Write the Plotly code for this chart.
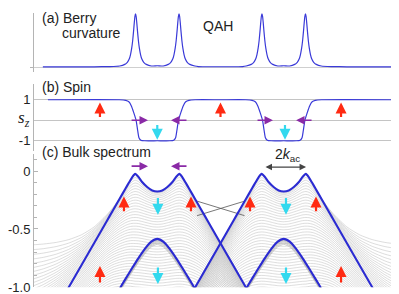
import numpy as np
import plotly.graph_objects as go

# ---------------- data ----------------
K_RANGE = [-2.95, 2.95]          # momentum axis (valleys at k = -1 and +1)

# (a) Berry curvature (normalised)
BERRY_PEAKS_K = [-1.344, -0.656, 0.656, 1.344]
PEAK_OFFSETS = [-0.25, -0.17, -0.13, -0.1, -0.08, -0.06, -0.045, -0.03, -0.02, -0.01, 0.0,
                0.01, 0.02, 0.03, 0.045, 0.06, 0.08, 0.1, 0.13, 0.17, 0.25]
PEAK_VALUES = [0.02, 0.05, 0.09, 0.15, 0.23, 0.36, 0.5, 0.69, 0.83, 0.95, 1.0,
               0.95, 0.83, 0.69, 0.5, 0.36, 0.23, 0.15, 0.09, 0.05, 0.02]
BERRY_BG_K = [-2.81, -2.0, -1.75, -1.0, -0.35, 0.0, 0.35, 1.0, 1.75, 2.0, 2.95]
BERRY_BG_V = [0.003, 0.004, 0.01, 0.025, 0.01, 0.006, 0.01, 0.025, 0.01, 0.004, 0.003]

# (b) spin s_z (left half; right half is its mirror image)
SPIN_K_LEFT = [-2.73, -1.6, -1.5, -1.45, -1.41, -1.37, -1.335, -1.31, -1.29, -1.26,
               -1.2, -1.0, -0.8, -0.74, -0.71, -0.69, -0.665, -0.63, -0.59, -0.55,
               -0.5, -0.4, 0.0]
SPIN_V_LEFT = [1, 1, 0.97, 0.9, 0.7, 0.35, 0.0, -0.5, -0.85, -0.97,
               -1, -1, -1, -0.97, -0.85, -0.5, 0.0, 0.35, 0.7, 0.9,
               0.97, 1, 1]

# (c) bands around one valley, q = k - k_valley
Q_NODES = [-2.0, -1.8, -1.6, -1.4, -1.2, -1.0, -0.8, -0.7, -0.6, -0.5, -0.45, -0.4,
           -0.35, -0.3, -0.24, -0.16, -0.08, 0.0, 0.08, 0.16, 0.24, 0.3, 0.35, 0.4,
           0.45, 0.5, 0.6, 0.7, 0.8, 1.0, 1.2, 1.4, 1.6, 1.8, 2.0]
E_UPPER = [-1.573, -1.383, -1.193, -1.003, -0.813, -0.623, -0.433, -0.338, -0.243,
           -0.149, -0.102, -0.057, -0.025, -0.05, -0.095, -0.138, -0.168, -0.177,
           -0.168, -0.138, -0.095, -0.05, -0.025, -0.057, -0.102, -0.149, -0.243,
           -0.338, -0.433, -0.623, -0.813, -1.003, -1.193, -1.383, -1.573]
Q_LOWER = [-0.9, -0.8, -0.6, -0.5, -0.4, -0.3, -0.2, -0.1, 0.0,
           0.1, 0.2, 0.3, 0.4, 0.5, 0.6, 0.8, 0.9]
E_LOWER = [-1.297, -1.203, -1.019, -0.928, -0.839, -0.753, -0.674, -0.611, -0.585,
           -0.611, -0.674, -0.753, -0.839, -0.928, -1.019, -1.203, -1.297]
VALLEYS = [-1.0, 1.0]
N_SUB, SUB_STEP = 40, 0.025          # bulk sub-band continuum
N_SUB_LOW, SUB_STEP_LOW = 8, 0.03
SAT_A0, SAT_KAPPA = 0.6, 1.9
EDGE_K = [-0.37, 0.38]
EDGE_E_A = [-0.26, -0.385]
EDGE_E_B = [-0.385, -0.26]

# arrows: (k, tail, head)
B_UP = [(-1.907, 0.08, 0.87), (0.0, 0.08, 0.87), (1.907, 0.08, 0.87)]
B_DOWN = [(-1.0, -0.16, -0.95), (1.02, -0.16, -0.95)]
B_HORIZ = [(-1.43, -1.147), (-0.514, -0.783), (0.562, 0.83), (1.464, 1.195)]  # (tail k, head k) at s=0
C_HORIZ = [(-1.43, -1.147), (-0.514, -0.783)]
C_HORIZ_E = 0.042
C_UP = [(-1.527, -0.36, -0.22), (-0.467, -0.36, -0.22), (0.467, -0.36, -0.22),
        (1.511, -0.36, -0.22), (-1.907, -0.975, -0.82), (1.907, -0.975, -0.82)]
C_DOWN = [(-0.99, -0.22, -0.378), (1.036, -0.22, -0.378),
          (-0.99, -0.82, -0.975), (1.036, -0.82, -0.975)]
KAC_ARROW = (0.688, 1.353, 0.034)

# ---------------- styles ----------------
BLUE = "#2b2bd2"
BLUE_THIN = "#3a3ad8"
RED = "#ff2a12"
CYAN = "#33d9ee"
PURPLE = "#8a2aa6"
GRAY = "#c6c6c6"
AXIS = "#b4b4b4"
FONT = "Liberation Sans, Arial, sans-serif"

fig = go.Figure()

# (a) Berry curvature
pts = list(zip(BERRY_BG_K, BERRY_BG_V))
for kc in BERRY_PEAKS_K:
    pts += [(kc + o, v) for o, v in zip(PEAK_OFFSETS, PEAK_VALUES)]
pts.sort()
fig.add_trace(go.Scatter(x=[p[0] for p in pts], y=[p[1] for p in pts], mode="lines",
                         line=dict(color=BLUE_THIN, width=1.2, shape="spline", smoothing=0.4),
                         xaxis="x", yaxis="y", hoverinfo="skip"))

# (b) spin
spin_k = SPIN_K_LEFT + [-k for k in SPIN_K_LEFT[::-1]][1:]
spin_v = SPIN_V_LEFT + SPIN_V_LEFT[::-1][1:]
fig.add_trace(go.Scatter(x=spin_k, y=spin_v, mode="lines",
                         line=dict(color=BLUE_THIN, width=1.2, shape="spline", smoothing=0.6),
                         xaxis="x2", yaxis="y2", hoverinfo="skip"))

# (c) bulk spectrum
Q = np.array(Q_NODES)
E = np.array(E_UPPER)
w = np.clip((-Q - 0.35) / 0.4, 0, 1)
for n in range(1, N_SUB + 1):
    c = n * SUB_STEP
    r = np.sqrt(E ** 2 + c ** 2)
    A = SAT_A0 + SAT_KAPPA * c
    band = (1 - w) * (-r) + w * (-A * np.tanh(r / A))
    fig.add_trace(go.Scatter(x=VALLEYS[0] + Q, y=band, mode="lines",
                             line=dict(color=GRAY, width=0.6, shape="spline", smoothing=0.6),
                             xaxis="x3", yaxis="y3", hoverinfo="skip"))
    fig.add_trace(go.Scatter(x=VALLEYS[1] - Q, y=band, mode="lines",
                             line=dict(color=GRAY, width=0.6, shape="spline", smoothing=0.6),
                             xaxis="x3", yaxis="y3", hoverinfo="skip"))
QL = np.array(Q_LOWER)
EL = np.array(E_LOWER)
for n in range(1, N_SUB_LOW + 1):
    c = n * SUB_STEP_LOW
    band = -np.sqrt(EL ** 2 + c ** 2)
    for v in VALLEYS:
        fig.add_trace(go.Scatter(x=v + QL, y=band, mode="lines",
                                 line=dict(color="#b0b0b0", width=0.6, shape="spline", smoothing=0.6),
                                 xaxis="x3", yaxis="y3", hoverinfo="skip"))
for ee in (EDGE_E_A, EDGE_E_B):
    fig.add_trace(go.Scatter(x=EDGE_K, y=ee, mode="lines", line=dict(color="#555555", width=0.8),
                             xaxis="x3", yaxis="y3", hoverinfo="skip"))
for v in VALLEYS:
    fig.add_trace(go.Scatter(x=v + Q, y=E, mode="lines",
                             line=dict(color=BLUE, width=2.1, shape="spline", smoothing=0.6),
                             xaxis="x3", yaxis="y3", hoverinfo="skip"))
    fig.add_trace(go.Scatter(x=v + QL, y=EL, mode="lines",
                             line=dict(color=BLUE, width=2.1, shape="spline", smoothing=0.6),
                             xaxis="x3", yaxis="y3", hoverinfo="skip"))

# ---------------- annotations ----------------
ann = []


def arrow(x, y, ax, ay, color, axis, width=2.2, head=2, side="end"):
    ann.append(dict(x=x, y=y, ax=ax, ay=ay, xref="x" + axis, yref="y" + axis,
                    axref="x" + axis, ayref="y" + axis, text="", showarrow=True,
                    arrowhead=head, arrowsize=1, arrowwidth=width, arrowcolor=color,
                    arrowside=side, standoff=0, startstandoff=0))


for k, t, h in B_UP:
    arrow(k, h, k, t, RED, "2")
for k, t, h in B_DOWN:
    arrow(k, h, k, t, CYAN, "2")
for t, h in B_HORIZ:
    arrow(h, 0, t, 0, PURPLE, "2", width=1.7)
for t, h in C_HORIZ:
    arrow(h, C_HORIZ_E, t, C_HORIZ_E, PURPLE, "3", width=1.7)
for k, t, h in C_UP:
    arrow(k, h, k, t, RED, "3")
for k, t, h in C_DOWN:
    arrow(k, h, k, t, CYAN, "3")
arrow(KAC_ARROW[1], KAC_ARROW[2], KAC_ARROW[0], KAC_ARROW[2], "#444444", "3",
      width=1.3, head=2, side="end+start")


def label(text, x, y, size=14, xanchor="left", xref="paper", yref="paper", family=FONT):
    ann.append(dict(text=text, x=x, y=y, xref=xref, yref=yref, showarrow=False,
                    xanchor=xanchor, yanchor="middle",
                    font=dict(family=family, size=size, color="#222222")))


label("(a) Berry", 0.016, 0.966)
label("curvature", 0.0697, 0.9116)
label("QAH", 0.4477, 0.9388)
label("(b) Spin", 0.016, 0.7245)
label("(c) Bulk spectrum", 0.016, 0.4966)
label("2<i>k</i><sub>ac</sub>", 1.052, 0.134, xanchor="center", xref="x3", yref="y3")
label("<i>s</i><sub><i>z</i></sub>", -0.026, 0.08, size=17, xanchor="center",
      yref="y2", family="Liberation Serif, Times New Roman, serif")

hidden_x = dict(range=K_RANGE, visible=False, fixedrange=True)
tickfont = dict(family=FONT, size=13, color="#222222")

fig.update_layout(
    width=399, height=294,
    margin=dict(l=26, r=0, t=0, b=0),
    paper_bgcolor="white", plot_bgcolor="white",
    showlegend=False,
    xaxis=dict(hidden_x, anchor="y"),
    xaxis2=dict(hidden_x, anchor="y2"),
    xaxis3=dict(hidden_x, anchor="y3"),
    yaxis=dict(domain=[0.7755, 0.983], range=[-0.101, 1.018], showline=True,
               linecolor=AXIS, linewidth=1, showticklabels=False, showgrid=False,
               zeroline=True, zerolinecolor="#cfcfcf", zerolinewidth=1,
               ticks="outside", tickvals=[0], ticklen=3, tickcolor=AXIS, anchor="x"),
    yaxis2=dict(domain=[0.5034, 0.7347], range=[-1.476, 1.762], tickvals=[1, -1],
                ticktext=["1", "-1"], showgrid=True, gridcolor="#c4c4c4", gridwidth=1,
                zeroline=True, zerolinecolor="#c4c4c4", zerolinewidth=1,
                showline=True, linecolor=AXIS, linewidth=1, ticks="",
                tickfont=tickfont, anchor="x2"),
    yaxis3=dict(domain=[0.0272, 0.4898], range=[-1.002, 0.143], tickvals=[0, -0.5, -1.0],
                ticktext=["0", "-0.5", "-1.0"], ticks="inside", ticklen=4, tickcolor=AXIS,
                minor=dict(tickmode="linear", tick0=0, dtick=0.1, ticks="inside",
                           ticklen=3, tickcolor=AXIS),
                showgrid=False, zeroline=False, showline=True, linecolor=AXIS,
                linewidth=1, tickfont=tickfont, anchor="x3"),
    annotations=ann,
)

fig.write_html("out.html")
